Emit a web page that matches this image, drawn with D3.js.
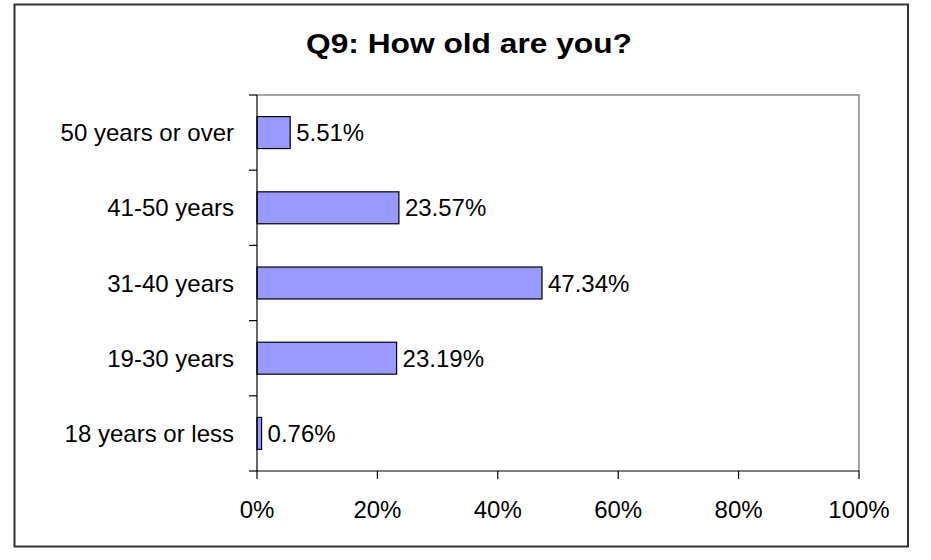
<!DOCTYPE html>
<html>
<head>
<meta charset="utf-8">
<script src="https://cdn.jsdelivr.net/npm/d3@7"></script>
<style>
  html, body { margin: 0; padding: 0; background: #fff; }
  text { font-family: "Liberation Sans", Arial, sans-serif; fill: #000; }
</style>
</head>
<body>
<svg id="chart" width="931" height="560"></svg>
<script>
const title = "Q9: How old are you?";
const categories = ["50 years or over", "41-50 years", "31-40 years", "19-30 years", "18 years or less"];
const values = [5.51, 23.57, 47.34, 23.19, 0.76];
const xTicks = [0, 20, 40, 60, 80, 100];

const svg = d3.select("#chart");
const W = 931, H = 560;
svg.append("rect").attr("width", W).attr("height", H).attr("fill", "#fff");

// outer chart border
svg.append("rect")
  .attr("x", 14.5).attr("y", 4.5).attr("width", 893.5).attr("height", 542)
  .attr("fill", "none").attr("stroke", "#333").attr("stroke-width", 2);

const m = { left: 257, right: 859, top: 95, bottom: 471 };

const x = d3.scaleLinear().domain([0, 100]).range([m.left, m.right]);
const y = d3.scaleBand().domain(categories).range([m.top, m.bottom]).paddingInner(0.575).paddingOuter(0.2875);
const yEdges = d3.scaleBand().domain(categories).range([m.top, m.bottom]).padding(0);

// plot area top/right border (gray)
svg.append("path")
  .attr("d", `M${m.left},${m.top}H${m.right}V${m.bottom}`)
  .attr("fill", "none").attr("stroke", "#888").attr("stroke-width", 1.5);

// title
svg.append("text")
  .attr("x", 469).attr("y", 53)
  .attr("text-anchor", "middle")
  .attr("font-size", 28).attr("font-weight", "bold")
  .attr("textLength", 326).attr("lengthAdjust", "spacingAndGlyphs")
  .text(title);

// bars
svg.selectAll("rect.bar").data(values).join("rect")
  .attr("class", "bar")
  .attr("x", x(0))
  .attr("y", (d, i) => y(categories[i]))
  .attr("width", d => x(d) - x(0))
  .attr("height", y.bandwidth())
  .attr("fill", "#9999FF")
  .attr("stroke", "#000").attr("stroke-width", 1.2);

// value labels
svg.selectAll("text.val").data(values).join("text")
  .attr("class", "val")
  .attr("x", d => x(d) + 6)
  .attr("y", (d, i) => y(categories[i]) + y.bandwidth() / 2 + 8.5)
  .attr("font-size", 24)
  .text(d => d.toFixed(2) + "%");

// y axis
const yAxisG = svg.append("g");
yAxisG.append("line")
  .attr("x1", m.left).attr("x2", m.left).attr("y1", m.top).attr("y2", m.bottom)
  .attr("stroke", "#000").attr("stroke-width", 1.2);
const yTickPos = categories.map(c => yEdges(c)).concat([m.bottom]);
yAxisG.selectAll("line.t").data(yTickPos).join("line")
  .attr("class", "t")
  .attr("x1", m.left - 8).attr("x2", m.left)
  .attr("y1", d => d).attr("y2", d => d)
  .attr("stroke", "#000").attr("stroke-width", 1.2);
yAxisG.selectAll("text").data(categories).join("text")
  .attr("x", 234)
  .attr("y", c => yEdges(c) + yEdges.bandwidth() / 2 + 8.5)
  .attr("text-anchor", "end")
  .attr("font-size", 24)
  .text(c => c);

// x axis
const xAxisG = svg.append("g");
xAxisG.append("line")
  .attr("x1", m.left).attr("x2", m.right).attr("y1", m.bottom).attr("y2", m.bottom)
  .attr("stroke", "#000").attr("stroke-width", 1.2);
xAxisG.selectAll("line.t").data(xTicks).join("line")
  .attr("class", "t")
  .attr("x1", d => x(d)).attr("x2", d => x(d))
  .attr("y1", m.bottom).attr("y2", m.bottom + 8)
  .attr("stroke", "#000").attr("stroke-width", 1.2);
xAxisG.selectAll("text").data(xTicks).join("text")
  .attr("x", d => x(d))
  .attr("y", 518)
  .attr("text-anchor", "middle")
  .attr("font-size", 24)
  .text(d => d + "%");
</script>
</body>
</html>
